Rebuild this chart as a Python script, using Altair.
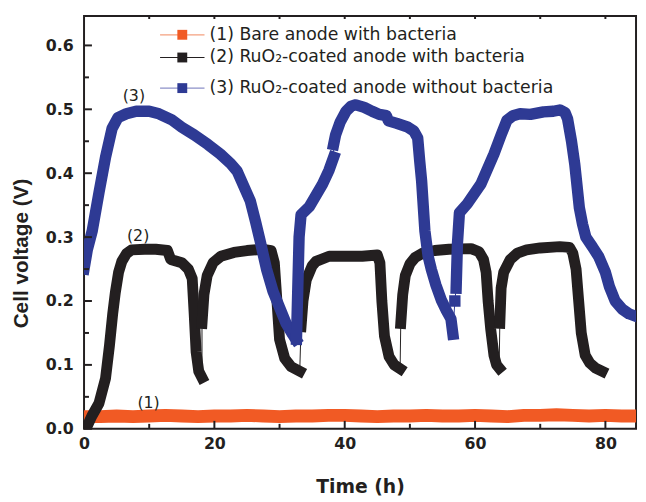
import altair as alt
import pandas as pd

# ---------------- data ----------------
# (1) Bare anode with bacteria
bare_t = [0.3, 2.5, 5, 7.5, 10, 12.5, 15, 17.5, 20, 22.5, 25, 27.5, 30, 32.5, 35, 37.5, 40, 42.5,
          45, 47.5, 50, 52.5, 55, 57.5, 60, 62.5, 65, 67.5, 70, 72.5, 75, 77.5, 80, 82.5, 84.7]
bare_v = [0.019, 0.019, 0.020, 0.019, 0.020, 0.021, 0.020, 0.019, 0.020, 0.020, 0.021, 0.020, 0.019,
          0.020, 0.020, 0.021, 0.021, 0.020, 0.019, 0.020, 0.020, 0.021, 0.020, 0.020, 0.021, 0.020,
          0.019, 0.021, 0.021, 0.022, 0.021, 0.020, 0.021, 0.020, 0.020]

# (2) RuO2-coated anode with bacteria (five cycles)
blk1_t = [0.3, 1.2, 2.3, 3.3, 3.9, 4.4, 4.8, 5.3, 5.8, 6.5, 7.3, 9.3, 11.0, 12.8, 13.3, 15.0, 16.0, 16.6, 16.9, 17.2, 17.6, 18.1]
blk1_v = [0.000, 0.020, 0.040, 0.079, 0.130, 0.180, 0.213, 0.245, 0.262, 0.274, 0.280, 0.281, 0.281, 0.279, 0.265, 0.260, 0.250, 0.235, 0.180, 0.120, 0.090, 0.080]
blk2_t = [18.1, 18.4, 18.9, 19.8, 21.0, 23.0, 25.0, 27.5, 28.7, 29.2, 29.6, 30.0, 30.8, 31.8, 33.1]
blk2_v = [0.165, 0.210, 0.240, 0.260, 0.270, 0.276, 0.279, 0.281, 0.279, 0.260, 0.200, 0.140, 0.110, 0.097, 0.090]
blk3_t = [33.3, 33.6, 34.1, 35.0, 35.6, 37.6, 40.0, 42.7, 45.0, 45.4, 45.7, 46.1, 46.8, 47.6, 48.5]
blk3_v = [0.160, 0.200, 0.233, 0.255, 0.262, 0.270, 0.270, 0.270, 0.272, 0.260, 0.200, 0.145, 0.113, 0.100, 0.094]
blk4_t = [48.6, 48.9, 49.3, 50.0, 50.8, 52.0, 53.8, 56.0, 59.4, 60.6, 61.3, 61.7, 62.0, 62.4, 62.9, 63.3, 63.7]
blk4_v = [0.165, 0.210, 0.240, 0.258, 0.268, 0.275, 0.279, 0.281, 0.282, 0.277, 0.265, 0.245, 0.200, 0.156, 0.115, 0.100, 0.095]
blk5_t = [63.8, 64.0, 64.4, 65.4, 66.5, 67.9, 70.0, 73.0, 74.5, 75.0, 75.5, 75.9, 76.3, 76.9, 77.6, 78.5, 79.5]
blk5_v = [0.165, 0.220, 0.245, 0.265, 0.275, 0.280, 0.283, 0.285, 0.284, 0.275, 0.250, 0.200, 0.150, 0.115, 0.103, 0.095, 0.090]

# (3) RuO2-coated anode without bacteria
blu1_t = [0.0, 0.5, 1.26, 2.3, 3.3, 4.3, 5.2, 6.5, 8.0, 10.0, 11.5, 13.4, 15.0, 16.9, 19.0, 20.9, 22.5, 23.5,
          24.5, 25.5, 26.3, 27.0, 28.0, 29.0, 30.0, 31.0, 32.0, 32.5]
blu1_v = [0.250, 0.280, 0.310, 0.370, 0.425, 0.470, 0.487, 0.493, 0.497, 0.497, 0.493, 0.484, 0.472, 0.460,
          0.445, 0.430, 0.415, 0.403, 0.380, 0.357, 0.325, 0.295, 0.250, 0.215, 0.190, 0.165, 0.148, 0.140]
blu2_t = [32.6, 32.8, 33.0, 33.3, 34.6, 36.6, 37.6, 38.3]
blu2_v = [0.140, 0.220, 0.300, 0.335, 0.348, 0.383, 0.405, 0.425]
blu3_t = [38.3, 38.6, 39.3, 40.2, 41.0, 41.7, 43.0, 44.2, 45.3, 46.4, 46.7, 48.0, 49.7, 50.6, 51.2, 51.5,
          51.8, 52.3, 52.8, 53.3, 54.0, 54.8, 55.6, 56.3, 56.6]
blu3_v = [0.445, 0.460, 0.480, 0.497, 0.505, 0.507, 0.503, 0.497, 0.492, 0.490, 0.482, 0.478, 0.472, 0.466,
          0.455, 0.420, 0.388, 0.310, 0.270, 0.249, 0.225, 0.202, 0.185, 0.172, 0.148]
blu_dot_t = [56.9]
blu_dot_v = [0.200]
blu4_t = [57.1, 57.3, 57.6, 58.8, 60.9, 62.9, 64.0, 64.9, 65.8, 66.9, 68.5, 70.5, 72.0, 73.0, 73.8, 74.2,
          74.8, 75.3, 76.0, 76.5, 77.0, 78.0, 79.0, 80.0, 80.6, 81.5, 82.6, 83.6, 84.7]
blu4_v = [0.220, 0.290, 0.338, 0.352, 0.383, 0.430, 0.460, 0.483, 0.490, 0.493, 0.492, 0.496, 0.497, 0.499,
          0.495, 0.485, 0.450, 0.414, 0.346, 0.320, 0.300, 0.285, 0.269, 0.245, 0.223, 0.200, 0.187, 0.180, 0.176]

series_names = ["(1) Bare anode with bacteria",
                "(2) RuO\u2082-coated anode with bacteria",
                "(3) RuO\u2082-coated anode without bacteria"]
series_colors = ["#F15A24", "#231F20", "#2E3A94"]
legend_line_colors = ["#F4A07F", "#231F20", "#8C90C8"]

ann_t = [9.9, 8.3, 7.65]
ann_v = [0.040, 0.301, 0.520]
ann_text = ["(1)", "(2)", "(3)"]

x_major = [0, 20, 40, 60, 80]
x_minor = [10, 30, 50, 70]
x_top = [10, 20, 30, 40, 50, 60, 70, 80]
y_major = [0.0, 0.1, 0.2, 0.3, 0.4, 0.5, 0.6]
y_minor = [0.05, 0.15, 0.25, 0.35, 0.45, 0.55]

# ---------------- build tables ----------------
def seg_table(segs):
    rows = []
    i = 0
    for k, (ts, vs) in enumerate(segs):
        for t, v in zip(ts, vs):
            rows.append({"t": t, "v": v, "seg": k, "i": i})
            i += 1
    return pd.DataFrame(rows)

orange_df = seg_table([(bare_t, bare_v)])
black_df = seg_table([(blk1_t, blk1_v), (blk2_t, blk2_v), (blk3_t, blk3_v), (blk4_t, blk4_v), (blk5_t, blk5_v)])
blue_all = seg_table([(blu1_t, blu1_v), (blu2_t, blu2_v), (blu3_t, blu3_v), (blu_dot_t, blu_dot_v), (blu4_t, blu4_v)])
blue_dot_df = pd.DataFrame({"t": blu_dot_t, "v": blu_dot_v})

INK = "#231F20"
XS = alt.Scale(domain=[0, 84.7], nice=False, zero=False)
YS = alt.Scale(domain=[0, 0.646], nice=False, zero=False)
X_AXIS = alt.Axis(values=x_major, ticks=False, domain=False, grid=False, labelFlush=False,
                  labelFont="DejaVu Sans", labelFontWeight="bold", labelFontSize=16, labelColor=INK,
                  labelPadding=7, title="Time (h)", titleFont="DejaVu Sans", titleFontWeight="bold",
                  titleFontSize=19, titleColor=INK, titleY=59, titleBaseline="middle")
Y_AXIS = alt.Axis(values=y_major, format=".1f", ticks=False, domain=False, grid=False,
                  labelFont="DejaVu Sans", labelFontWeight="bold", labelFontSize=16, labelColor=INK,
                  labelPadding=11, title="Cell voltage (V)", titleFont="Liberation Sans",
                  titleFontWeight="bold", titleFontSize=21, titleColor=INK, titleX=-63, titleY=240,
                  titleAngle=-90, titleBaseline="middle")

def X(f="t"):
    return alt.X(f"{f}:Q", scale=XS, axis=X_AXIS)

def Y(f="v"):
    return alt.Y(f"{f}:Q", scale=YS, axis=Y_AXIS)

def series_layers(df, color, width):
    thin = alt.Chart(df).mark_line(strokeWidth=1, color=color, clip=True).encode(
        x=X(), y=Y(), order="i:Q")
    thick = alt.Chart(df).mark_line(strokeWidth=width, color=color, strokeCap="square",
                                     strokeJoin="round", clip=True).encode(
        x=X(), y=Y(), detail="seg:N", order="i:Q")
    return [thin, thick]

layers = []
layers += series_layers(orange_df, series_colors[0], 13)
layers += series_layers(black_df, series_colors[1], 11)
layers += series_layers(blue_all, series_colors[2], 11.5)
layers.append(alt.Chart(blue_dot_df).mark_square(size=90, color=series_colors[2], opacity=1).encode(
    x=X(), y=Y()))

# annotations
ann_df = pd.DataFrame({"t": ann_t, "v": ann_v, "label": ann_text})
layers.append(alt.Chart(ann_df).mark_text(font="DejaVu Sans", fontSize=16, color=INK,
                                          align="center", baseline="middle").encode(
    x=X(), y=Y(), text="label:N"))

# inward ticks
def vtick(vals, y0, y1):
    return alt.Chart(pd.DataFrame({"t": vals})).mark_rule(color=INK, strokeWidth=2).encode(
        x=X(), y=alt.value(y0), y2=alt.value(y1))

def htick(vals, x0, x1):
    return alt.Chart(pd.DataFrame({"v": vals})).mark_rule(color=INK, strokeWidth=2).encode(
        y=Y(), x=alt.value(x0), x2=alt.value(x1))

layers += [vtick(x_major, 418, 410), vtick(x_minor, 418, 413), vtick(x_top, 0, 3),
           htick(y_major, 0, 8), htick(y_minor, 0, 5)]

# legend (manual, inside the plot)
leg_y = [19, 42, 73]
for name, c, lc, ly in zip(series_names, series_colors, legend_line_colors, leg_y):
    layers.append(alt.Chart(pd.DataFrame({"label": [name]})).mark_rule(color=lc, strokeWidth=1.2).encode(
        x=alt.value(77), x2=alt.value(122), y=alt.value(ly)))
    layers.append(alt.Chart(pd.DataFrame({"label": [name]})).mark_square(size=100, color=c, opacity=1).encode(
        x=alt.value(99.5), y=alt.value(ly)))
    layers.append(alt.Chart(pd.DataFrame({"label": [name]})).mark_text(
        font="DejaVu Sans", fontSize=17.5, color=INK, align="left", baseline="middle").encode(
        x=alt.value(127), y=alt.value(ly), text="label:N"))

chart = alt.layer(*layers).properties(
    width=559, height=418,
    padding={"left": 77, "top": 5, "right": 2, "bottom": 70},
    autosize=alt.AutoSizeParams(type="none"),
    background="white",
).configure_view(stroke=INK, strokeWidth=2)

chart.save("out.html", embed_options={"renderer": "svg", "actions": False})
